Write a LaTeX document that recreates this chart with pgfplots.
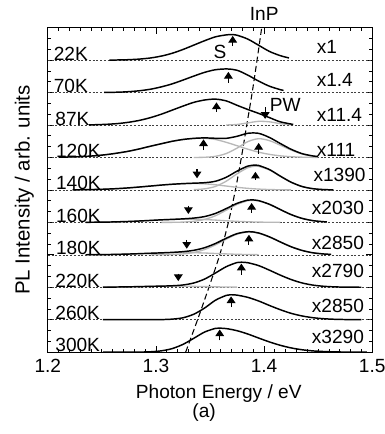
\documentclass[border=0pt]{standalone}
\usepackage{fontspec}
\setmainfont{Liberation Sans}
\usepackage{pgfplots}
\pgfplotsset{compat=1.18}
\usetikzlibrary{arrows.meta,calc}
\definecolor{fitgray}{gray}{0.72}
\begin{document}
\begin{tikzpicture}[font=\fontsize{14.3}{16}\selectfont]
\begin{axis}[name=ax,
  scale only axis, width=243pt, height=243pt,
  xmin=1.2, xmax=1.5, ymin=0, ymax=10,
  xtick={1.2,1.3,1.4,1.5}, minor x tick num=9,
  ytick={0,1,...,10}, minor y tick num=2, yticklabels={},
  tick align=inside,
  major tick length=4.5pt, minor tick length=2.5pt,
  axis line style={line width=0.9pt},
  every tick/.style={black, line width=0.6pt},
  xticklabel style={/pgf/number format/.cd, fixed, fixed zerofill, precision=1, /tikz/.cd, anchor=base, yshift=-15.5pt, inner sep=0pt},
  /pgf/number format/assume math mode=true,
  clip=false,
]
% dashed baselines
\pgfplotsinvokeforeach{1,...,9}{
  \addplot[black!75, line width=0.5pt, dash pattern=on 1.5pt off 1.3pt] coordinates {(1.2,#1) (1.5,#1)};
}
% InP line
\addplot[black, line width=0.8pt, dash pattern=on 4.5pt off 2.5pt, smooth] coordinates {
(1.3275,0) (1.3385,1) (1.3490,2) (1.3590,3) (1.3670,4) (1.3735,5) (1.3790,6) (1.3840,7) (1.3890,8) (1.3935,9) (1.3978,10)};

% ---------- gray fit components ----------
% 87K PW
\addplot[fitgray, line width=1pt, smooth] table[y expr=\thisrowno{1}+7] {
1.365 0.003
1.375 0.019
1.385 0.067
1.395 0.116
1.405 0.10
1.415 0.044
1.425 0.01
};
% 120K low
\addplot[fitgray, line width=1pt, smooth] table[y expr=\thisrowno{1}+6] {
1.210 0.009
1.225 0.021
1.235 0.035
1.245 0.058
1.255 0.093
1.265 0.14
1.275 0.196
1.285 0.268
1.295 0.349
1.305 0.425
1.315 0.50
1.325 0.556
1.335 0.589
1.342 0.60
1.345 0.597
1.355 0.556
1.365 0.469
1.375 0.364
1.385 0.257
1.395 0.165
1.405 0.097
1.415 0.052
1.425 0.025
1.435 0.011
1.450 0.003
};
% 120K high
\addplot[fitgray, line width=1pt, smooth] table[y expr=\thisrowno{1}+6] {
1.335 0.001
1.345 0.008
1.355 0.037
1.365 0.123
1.375 0.29
1.385 0.49
1.395 0.58
1.405 0.52
1.415 0.38
1.425 0.23
1.435 0.11
1.445 0.044
1.450 0.026
};
% 140K low
\addplot[fitgray, line width=1pt, smooth] table[y expr=\thisrowno{1}+5] {
1.223 0.004
1.235 0.009
1.245 0.016
1.255 0.027
1.265 0.043
1.275 0.065
1.285 0.092
1.295 0.121
1.305 0.151
1.315 0.176
1.325 0.194
1.335 0.2
1.345 0.189
1.355 0.16
1.365 0.121
1.375 0.082
1.385 0.05
1.395 0.027
1.405 0.013
1.415 0.006
1.425 0.002
};
% 140K high
\addplot[fitgray, line width=1pt, smooth] table[y expr=\thisrowno{1}+5] {
1.335 0.009
1.345 0.035
1.355 0.108
1.365 0.27
1.375 0.497
1.385 0.686
1.392 0.734
1.395 0.728
1.405 0.616
1.415 0.421
1.425 0.238
1.435 0.108
1.445 0.04
1.455 0.012
1.464 0.003
};
% 160K low
\addplot[fitgray, line width=1pt, smooth] table[y expr=\thisrowno{1}+4] {
1.235 0.003
1.255 0.01
1.275 0.029
1.285 0.044
1.295 0.061
1.305 0.078
1.315 0.091
1.325 0.099
1.330 0.1
1.335 0.099
1.345 0.088
1.355 0.071
1.365 0.05
1.375 0.033
1.385 0.019
1.395 0.01
1.405 0.004
1.415 0.002
};
% 160K high
\addplot[fitgray, line width=1pt, smooth] table[y expr=\thisrowno{1}+4] {
1.305 0.001
1.315 0.002
1.325 0.01
1.335 0.034
1.345 0.092
1.355 0.205
1.365 0.376
1.375 0.554
1.385 0.669
1.389 0.68
1.395 0.661
1.405 0.554
1.415 0.394
1.425 0.241
1.435 0.125
1.445 0.055
1.455 0.021
1.458 0.015
};
% 180K low
\addplot[fitgray, line width=1pt, smooth] table[y expr=\thisrowno{1}+3] {
1.235 0.003
1.255 0.009
1.275 0.025
1.295 0.048
1.305 0.059
1.315 0.067
1.325 0.07
1.335 0.066
1.345 0.056
1.355 0.042
1.365 0.029
1.375 0.017
1.385 0.009
1.395 0.005
};
% 180K high
\addplot[fitgray, line width=1pt, smooth] table[y expr=\thisrowno{1}+3] {
1.295 0.001
1.305 0.002
1.315 0.009
1.325 0.028
1.335 0.074
1.345 0.164
1.355 0.307
1.365 0.482
1.375 0.636
1.386 0.706
1.395 0.668
1.405 0.553
1.415 0.398
1.425 0.25
1.435 0.137
1.445 0.064
1.455 0.027
1.462 0.014
};
% 220K low
\addplot[fitgray, line width=1pt, smooth] table[y expr=\thisrowno{1}+2] {
1.255 0.005
1.275 0.014
1.285 0.021
1.295 0.028
1.305 0.033
1.315 0.035
1.325 0.033
1.335 0.028
1.345 0.021
1.355 0.014
1.365 0.008
1.375 0.005
};

% ---------- measured spectra ----------
% 22K
\addplot[black, line width=1.1pt, smooth] table[y expr=\thisrowno{1}+9] {
1.257 0.003
1.265 0.007
1.275 0.016
1.285 0.035
1.295 0.069
1.305 0.127
1.315 0.213
1.325 0.33
1.335 0.465
1.345 0.60
1.355 0.72
1.365 0.78
1.370 0.79
1.375 0.77
1.385 0.65
1.395 0.46
1.405 0.27
1.415 0.14
1.423 0.07
};
% 70K
\addplot[black, line width=1.1pt, smooth] table[y expr=\thisrowno{1}+8] {
1.252 0.005
1.265 0.014
1.275 0.03
1.285 0.059
1.295 0.106
1.305 0.178
1.315 0.27
1.325 0.387
1.335 0.51
1.345 0.625
1.355 0.706
1.366 0.73
1.375 0.69
1.385 0.54
1.395 0.355
1.405 0.198
1.415 0.092
1.418 0.07
};
% 87K
\addplot[black, line width=1.1pt, smooth] table[y expr=\thisrowno{1}+7] {
1.238 0.007
1.245 0.012
1.255 0.025
1.265 0.048
1.275 0.088
1.285 0.147
1.295 0.23
1.305 0.336
1.315 0.46
1.325 0.585
1.335 0.70
1.345 0.773
1.355 0.80
1.365 0.745
1.375 0.61
1.385 0.48
1.395 0.36
1.405 0.23
1.415 0.10
1.427 0.02
};
% 120K
\addplot[black, line width=1.1pt, smooth] table[y expr=\thisrowno{1}+6] {
1.210 0.009
1.225 0.021
1.235 0.035
1.245 0.058
1.255 0.093
1.265 0.14
1.275 0.196
1.285 0.268
1.295 0.349
1.305 0.425
1.315 0.50
1.325 0.556
1.335 0.59
1.345 0.605
1.355 0.593
1.365 0.592
1.375 0.654
1.385 0.747
1.395 0.745
1.405 0.617
1.415 0.432
1.425 0.255
1.435 0.121
1.445 0.049
1.450 0.029
};
% 140K
\addplot[black, line width=1.1pt, smooth] table[y expr=\thisrowno{1}+5] {
1.223 0.004
1.235 0.009
1.245 0.016
1.255 0.027
1.265 0.043
1.275 0.065
1.285 0.092
1.295 0.121
1.305 0.151
1.315 0.176
1.325 0.195
1.335 0.209
1.345 0.224
1.355 0.268
1.365 0.391
1.375 0.579
1.385 0.736
1.392 0.767
1.395 0.755
1.405 0.629
1.415 0.427
1.425 0.24
1.435 0.108
1.445 0.04
1.455 0.012
1.464 0.003
};
% 160K
\addplot[black, line width=1.1pt, smooth] table[y expr=\thisrowno{1}+4] {
1.235 0.003
1.255 0.01
1.275 0.029
1.285 0.044
1.295 0.061
1.305 0.079
1.315 0.093
1.325 0.109
1.335 0.133
1.345 0.18
1.355 0.276
1.365 0.426
1.375 0.587
1.385 0.688
1.389 0.694
1.395 0.671
1.405 0.558
1.415 0.396
1.425 0.241
1.435 0.125
1.445 0.055
1.455 0.021
1.458 0.015
};
% 180K
\addplot[black, line width=1.1pt, smooth] table[y expr=\thisrowno{1}+3] {
1.235 0.003
1.255 0.009
1.275 0.025
1.295 0.049
1.305 0.061
1.315 0.076
1.325 0.098
1.335 0.14
1.345 0.22
1.355 0.349
1.365 0.511
1.375 0.653
1.386 0.715
1.395 0.673
1.405 0.553
1.415 0.398
1.425 0.25
1.435 0.137
1.445 0.064
1.455 0.027
1.462 0.014
};
% 220K
\addplot[black, line width=1.1pt, smooth] table[y expr=\thisrowno{1}+2] {
1.251 0.003
1.265 0.009
1.275 0.014
1.285 0.021
1.295 0.029
1.305 0.036
1.315 0.046
1.325 0.071
1.335 0.132
1.345 0.253
1.355 0.439
1.365 0.635
1.375 0.763
1.379 0.773
1.385 0.757
1.395 0.668
1.405 0.527
1.415 0.375
1.425 0.239
1.435 0.135
1.445 0.068
1.455 0.031
1.465 0.013
1.475 0.005
1.490 0.001
};
% 260K
\addplot[black, line width=1.1pt, smooth] table[y expr=\thisrowno{1}+1] {
1.251 0.0
1.275 0.0
1.295 0.002
1.305 0.004
1.315 0.018
1.325 0.06
1.335 0.17
1.345 0.36
1.355 0.60
1.365 0.75
1.369 0.77
1.375 0.758
1.385 0.689
1.395 0.577
1.405 0.439
1.415 0.309
1.425 0.197
1.435 0.117
1.445 0.063
1.455 0.031
1.465 0.014
1.475 0.006
1.490 0.001
};
% 300K
\addplot[black, line width=1.1pt, smooth] table[y expr=\thisrowno{1}+0] {
1.251 0.0
1.275 0.0
1.285 0.003
1.295 0.012
1.305 0.041
1.315 0.11
1.325 0.24
1.335 0.427
1.345 0.62
1.355 0.733
1.358 0.74
1.365 0.727
1.375 0.662
1.385 0.559
1.395 0.435
1.405 0.315
1.415 0.212
1.425 0.131
1.435 0.075
1.445 0.039
1.455 0.02
1.465 0.009
1.475 0.004
1.495 0.0
};

% ---------- arrows ----------
\addplot[black, line width=0.8pt, -{Triangle[width=6.5pt,length=5pt]}, quiver={u=0, v=\thisrow{v}}] table {
x y v
1.371 9.43 0.32
1.367 8.31 0.33
1.356 7.41 0.29
1.344 6.23 0.33
1.395 6.12 0.33
1.392 5.31 0.25
1.3885 4.29 0.31
1.386 3.31 0.31
1.379 2.39 0.34
1.3695 1.39 0.33
1.359 0.36 0.34
1.401 7.55 -0.36
1.338 5.64 -0.28
1.330 4.52 -0.26
1.3285 3.46 -0.27
1.3207 2.42 -0.23
};

% ---------- labels ----------
\node[anchor=base west, inner sep=0pt] at ([xshift=4.3pt]axis cs:1.2,9) {22K};
\node[anchor=base west, inner sep=0pt] at ([xshift=4.3pt]axis cs:1.2,8) {70K};
\node[anchor=base west, inner sep=0pt] at ([xshift=5.5pt]axis cs:1.2,7) {87K};
\node[anchor=base west, inner sep=0pt] at ([xshift=6pt]axis cs:1.2,6) {120K};
\node[anchor=base west, inner sep=0pt] at ([xshift=6pt]axis cs:1.2,5) {140K};
\node[anchor=base west, inner sep=0pt] at ([xshift=6pt]axis cs:1.2,4) {160K};
\node[anchor=base west, inner sep=0pt] at ([xshift=6pt]axis cs:1.2,3) {180K};
\node[anchor=base west, inner sep=0pt] at ([xshift=5.5pt]axis cs:1.2,2) {220K};
\node[anchor=base west, inner sep=0pt] at ([xshift=5.5pt]axis cs:1.2,1) {260K};
\node[anchor=base west, inner sep=0pt] at ([xshift=5.5pt]axis cs:1.2,0.03) {300K};

\node[anchor=base west, inner sep=0pt] at (axis cs:1.4485,9.21) {x1};
\node[anchor=base west, inner sep=0pt] at (axis cs:1.4485,8.18) {x1.4};
\node[anchor=base west, inner sep=0pt] at (axis cs:1.4485,7.10) {x11.4};
\node[anchor=base west, inner sep=0pt] at (axis cs:1.4485,6.02) {x111};
\node[anchor=base west, inner sep=0pt] at (axis cs:1.4455,5.26) {x1390};
\node[anchor=base west, inner sep=0pt] at (axis cs:1.4440,4.25) {x2030};
\node[anchor=base west, inner sep=0pt] at (axis cs:1.4440,3.16) {x2850};
\node[anchor=base west, inner sep=0pt] at (axis cs:1.4440,2.30) {x2790};
\node[anchor=base west, inner sep=0pt] at (axis cs:1.4440,1.23) {x2850};
\node[anchor=base west, inner sep=0pt] at (axis cs:1.4440,0.26) {x3290};

\node at (axis cs:1.3592,9.27) {S};
\node at (axis cs:1.4196,7.62) {PW};
\node at (axis cs:1.4001,10.42) {InP};

\node[rotate=90, font=\fontsize{15.3}{17}\selectfont] at ([xshift=-17.5pt]rel axis cs:0,0.5) {PL Intensity / arb. units};
\node at ([yshift=-30.8pt]rel axis cs:0.527,0) {Photon Energy / eV};
\node at ([yshift=-45pt]rel axis cs:0.482,0) {(a)};
\end{axis}
\pgfresetboundingbox
\path[use as bounding box] ($(ax.south west)+(-35.8pt,-61.3pt)$) rectangle ($(ax.north east)+(9.5pt,20.8pt)$);
\end{tikzpicture}
\end{document}
